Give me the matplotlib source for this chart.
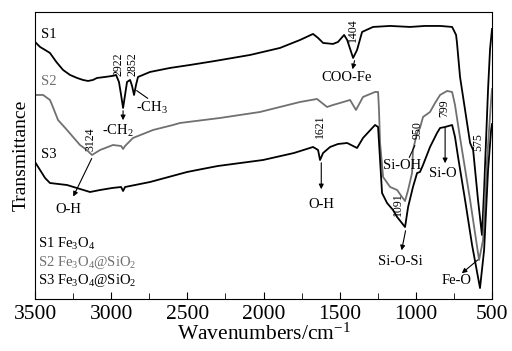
import numpy as np
import matplotlib
matplotlib.use('Agg')
import matplotlib.pyplot as plt

plt.rcParams['font.family'] = ['Liberation Serif', 'DejaVu Serif']
plt.rcParams['mathtext.fontset'] = 'custom'
plt.rcParams['mathtext.rm'] = 'Liberation Serif'
plt.rcParams['mathtext.it'] = 'Liberation Serif:italic'

# FTIR spectra, wavenumber (cm-1) and transmittance (a.u., offset per sample)
s1_wn = [3500, 3467, 3434, 3402, 3360, 3316, 3270, 3224, 3185, 3152, 3120, 3093, 3040,
         2994, 2968, 2949, 2935, 2922, 2909, 2896, 2876, 2863, 2850, 2837, 2824, 2745,
         2614, 2482, 2318, 2088, 1892, 1760, 1675, 1642, 1609, 1544, 1511, 1471, 1451,
         1412, 1386, 1353, 1281, 1169, 1038, 940, 841, 762, 736, 730, 710, 677, 644,
         624, 592, 566, 552, 539, 526, 513, 500]
s1_t = [257, 252, 249, 246, 237, 229, 224, 221, 219, 218, 219, 221, 222,
        223, 224, 217, 204, 191, 204, 217, 219, 213, 204, 214, 222, 227,
        231, 234, 238, 244, 251, 259, 265, 261, 256, 255, 257, 264, 259,
        241, 249, 267, 272, 273, 272, 273, 273, 272, 264, 256, 222, 189, 156,
        149, 99, 64, 109, 160, 210, 250, 270]

s2_wn = [3500, 3467, 3447, 3402, 3388, 3349, 3290, 3205, 3160, 3126, 3073, 2988, 2935,
         2922, 2909, 2857, 2725, 2594, 2548, 2286, 2023, 1892, 1760, 1649, 1583, 1544,
         1498, 1432, 1393, 1347, 1268, 1248, 1242, 1235, 1215, 1169, 1123, 1091, 1071,
         1051, 1025, 1019, 992, 973, 953, 907, 874, 841, 795, 762, 743, 723, 697, 644,
         585, 559, 533, 506, 500]
s2_t = [204, 204, 204, 199, 194, 179, 169, 154, 149, 144, 149, 154, 153,
        150, 153, 161, 169, 174, 176, 181, 187, 192, 197, 200, 192, 194,
        196, 199, 189, 202, 207, 207, 189, 156, 122, 112, 109, 102, 98,
        109, 126, 149, 166, 171, 182, 187, 196, 204, 208, 207, 194, 174, 149, 99,
        39, 59, 139, 199, 210]

s3_wn = [3500, 3467, 3434, 3402, 3290, 3139, 3073, 2994, 2935, 2922, 2909, 2745, 2502,
         2436, 2300, 2003, 1800, 1675, 1642, 1629, 1609, 1563, 1511, 1451, 1386, 1347,
         1268, 1248, 1235, 1222, 1189, 1150, 1123, 1071, 1051, 1019, 992, 973, 953, 907,
         861, 841, 808, 762, 743, 723, 677, 631, 579, 552, 526, 506, 500]
s3_t = [137, 129, 121, 116, 114, 107, 109, 111, 112, 108, 112, 117, 127,
        129, 133, 139, 146, 152, 149, 139, 146, 152, 155, 156, 151, 161,
        174, 172, 139, 106, 96, 89, 82, 72, 92, 112, 126, 127, 134, 152,
        166, 171, 172, 174, 162, 142, 99, 54, 11, 49, 129, 169, 175]

sample_names = ['S1 Fe$_3$O$_4$', 'S2 Fe$_3$O$_4$@SiO$_2$', 'S3 Fe$_3$O$_4$@SiO$_2$']
x_ticks = [3500, 3000, 2500, 2000, 1500, 1000, 500]

gray = '#707070'

fig = plt.figure(figsize=(5.12, 3.51), dpi=100)
ax = fig.add_axes([0.0684, 0.148, 0.8926, 0.818])

ax.plot(s1_wn, s1_t, color='k', lw=1.3)
ax.plot(s2_wn, s2_t, color=gray, lw=1.3)
ax.plot(s3_wn, s3_t, color='k', lw=1.3)

ax.set_xlim(3500, 500)
ax.set_ylim(0, 287)
ax.set_xticks(x_ticks)
ax.set_xticks([3250, 2750, 2250, 1750, 1250, 750], minor=True)
ax.set_yticks([])
ax.tick_params(axis='x', which='both', direction='in', top=False, labelsize=15.5, pad=4)
ax.tick_params(axis='x', which='major', length=5)
ax.tick_params(axis='x', which='minor', length=4)
ax.set_xlabel('Wavenumbers/cm$^{-1}$', fontsize=15.5, labelpad=0)
ax.set_ylabel('Transmittance', fontsize=14, labelpad=4)

# curve names
ax.text(3461, 264, 'S1', fontsize=10.5, va='center')
ax.text(3461, 217, 'S2', fontsize=10.5, va='center', color=gray)
ax.text(3461, 144, 'S3', fontsize=10.5, va='center')

# sample legend
for name, t, c in zip(sample_names, [55, 37, 19], ['k', gray, 'k']):
    ax.text(3480, t, name, fontsize=10.5, va='center', color=c)

arw = dict(arrowstyle='-|>', color='k', lw=0.8, mutation_scale=7)
ln = dict(arrowstyle='-', color='k', lw=0.8)
rot = dict(rotation=90, ha='center', va='center', fontsize=8.5)

# CH bands
ax.text(2955, 235, '2922', **rot)
ax.text(2863, 235, '2852', **rot)
ax.annotate('', xy=(2922, 176), xytext=(2922, 191), arrowprops=arw)
ax.text(2955, 168, '-CH$_2$', fontsize=10.5, ha='center', va='center')
ax.annotate('', xy=(2745, 199), xytext=(2848, 210), arrowprops=ln)
ax.text(2732, 191, '-CH$_3$', fontsize=10.5, ha='center', va='center')

# O-H
ax.text(3139, 160, '3124', **rot)
ax.annotate('', xy=(3257, 100), xytext=(3120, 143), arrowprops=arw)
ax.text(3283, 90, 'O-H', fontsize=10.5, ha='center', va='center')
ax.text(1629, 173, '1621', **rot)
ax.annotate('', xy=(1621, 107), xytext=(1621, 139), arrowprops=arw)
ax.text(1621, 95, 'O-H', fontsize=10.5, ha='center', va='center')

# COO-Fe
ax.text(1412, 269, '1404', **rot)
ax.annotate('', xy=(1420, 227), xytext=(1398, 241), arrowprops=arw)
ax.text(1458, 221, 'COO-Fe', fontsize=10.5, ha='center', va='center')

# silica bands
ax.text(986, 169, '950', **rot)
ax.annotate('', xy=(999, 156), xytext=(1051, 139), arrowprops=ln)
ax.text(1091, 133, 'Si-OH', fontsize=10.5, ha='center', va='center')
ax.text(815, 191, '799', **rot)
ax.annotate('', xy=(808, 133), xytext=(808, 174), arrowprops=arw)
ax.text(821, 126, 'Si-O', fontsize=10.5, ha='center', va='center')
ax.text(1117, 95, '1091', **rot)
ax.annotate('', xy=(1097, 46), xytext=(1064, 71), arrowprops=arw)
ax.text(1104, 38, 'Si-O-Si', fontsize=10.5, ha='center', va='center')

# Fe-O
ax.text(592, 157, '575', **rot)
ax.annotate('', xy=(712, 24), xytext=(579, 41), arrowprops=arw)
ax.text(730, 19, 'Fe-O', fontsize=10.5, ha='center', va='center')

fig.savefig('out.png', dpi=100)
